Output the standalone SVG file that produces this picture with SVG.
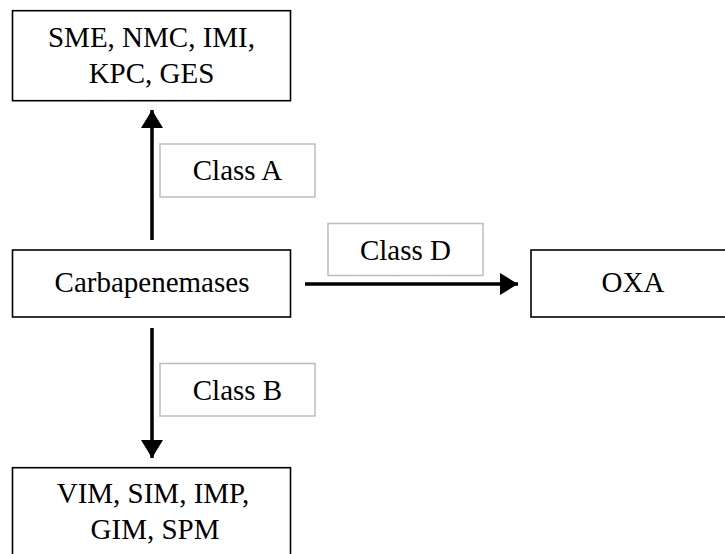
<svg xmlns="http://www.w3.org/2000/svg" width="725" height="554" viewBox="0 0 725 554">
<style>
.node{fill:#fff;stroke:#000;stroke-width:1.6}
.lbl{fill:#fff;stroke:#bdbdbd;stroke-width:1.5}
text{font-family:"Liberation Serif","Times New Roman",serif;font-size:29px;fill:#000;text-anchor:middle}
.edge{stroke:#000;stroke-width:3.5;fill:none}
</style>
<defs>
<marker id="ah" markerUnits="userSpaceOnUse" markerWidth="20" markerHeight="22" refX="18" refY="11" orient="auto">
<path d="M0,0 L18,11 L0,22 Z" fill="#000"/>
</marker>
</defs>
<rect width="725" height="554" fill="#fff"/>
<g id="connectors">
<line class="edge" x1="152" y1="240" x2="152" y2="110" marker-end="url(#ah)"/>
<line class="edge" x1="305" y1="284" x2="518" y2="284" marker-end="url(#ah)"/>
<line class="edge" x1="152" y1="328" x2="152" y2="458" marker-end="url(#ah)"/>
</g>
<g id="node-classA">
<rect class="lbl" x="160" y="144" width="155" height="53"/>
<text x="237.5" y="180">Class A</text>
</g>
<g id="node-classD">
<rect class="lbl" x="328" y="223.5" width="155" height="52"/>
<text x="405.5" y="259.5">Class D</text>
</g>
<g id="node-classB">
<rect class="lbl" x="160" y="363.5" width="155" height="52.5"/>
<text x="237.5" y="400">Class B</text>
</g>
<g id="node-classA-members">
<rect class="node" x="12.5" y="10.7" width="278" height="90"/>
<text x="151.5" y="47">SME, NMC, IMI,</text>
<text x="151.5" y="83">KPC, GES</text>
</g>
<g id="node-carbapenemases">
<rect class="node" x="12.5" y="250" width="278" height="67"/>
<text x="152" y="292">Carbapenemases</text>
</g>
<g id="node-oxa">
<rect class="node" x="531" y="250" width="210" height="67"/>
<text x="633" y="292">OXA</text>
</g>
<g id="node-classB-members">
<rect class="node" x="12.5" y="467.7" width="278" height="100"/>
<text x="153" y="503">VIM, SIM, IMP,</text>
<text x="155" y="539">GIM, SPM</text>
</g>
</svg>
